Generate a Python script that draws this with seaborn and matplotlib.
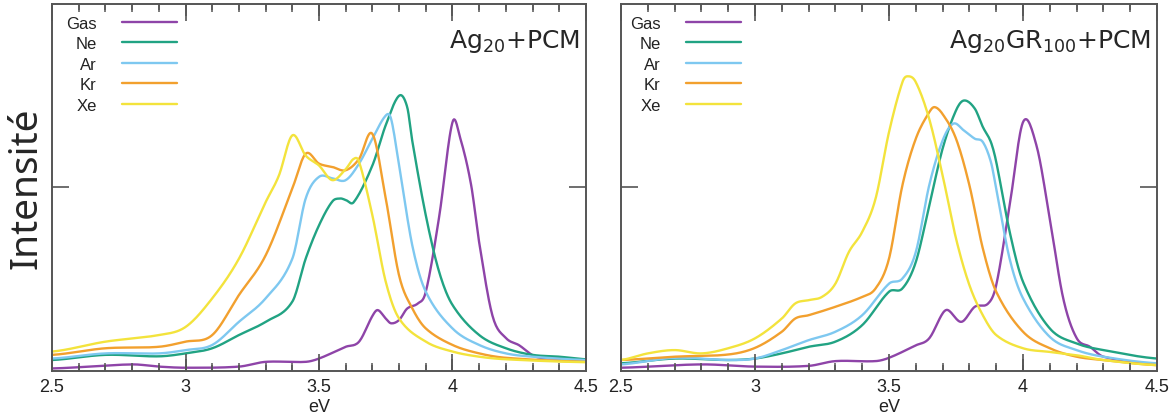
import numpy as np
import pandas as pd
import matplotlib
matplotlib.use('Agg')
import matplotlib.pyplot as plt
import seaborn as sns
from matplotlib.ticker import MultipleLocator

# Series names and colours
series = ['Gas', 'Ne', 'Ar', 'Kr', 'Xe']
colors = ['#8e44a8', '#21a383', '#7ec8f0', '#f2a02e', '#f3e33c']

# --- Left panel: Ag20+PCM (y scaled 0..1) ---
l_gas_x = [2.5, 2.8, 2.9, 3.0, 3.2, 3.3, 3.45, 3.5, 3.6, 3.65, 3.7, 3.72, 3.75, 3.77, 3.8, 3.83, 3.87, 3.9,
           3.95, 4.0, 4.03, 4.07, 4.1, 4.15, 4.2, 4.25, 4.3, 4.33, 4.4, 4.5]
l_gas_y = [0.007, 0.018, 0.012, 0.009, 0.012, 0.025, 0.025, 0.034, 0.066, 0.08, 0.15, 0.166, 0.143, 0.13,
           0.139, 0.17, 0.184, 0.216, 0.42, 0.678, 0.632, 0.506, 0.35, 0.15, 0.09, 0.07, 0.043, 0.036, 0.034, 0.027]

l_ne_x = [2.5, 2.7, 2.9, 3.0, 3.1, 3.2, 3.3, 3.4, 3.45, 3.5, 3.55, 3.58, 3.6, 3.63, 3.7, 3.75, 3.8, 3.83,
          3.85, 3.9, 3.95, 4.0, 4.1, 4.2, 4.3, 4.4, 4.5]
l_ne_y = [0.03, 0.044, 0.04, 0.048, 0.062, 0.098, 0.134, 0.189, 0.306, 0.397, 0.462, 0.47, 0.466, 0.46,
          0.56, 0.67, 0.75, 0.72, 0.624, 0.424, 0.27, 0.18, 0.098, 0.062, 0.044, 0.039, 0.032]

l_ar_x = [2.5, 2.7, 2.9, 3.0, 3.1, 3.2, 3.3, 3.4, 3.45, 3.5, 3.55, 3.6, 3.65, 3.7, 3.75, 3.77, 3.8, 3.85,
          3.9, 4.0, 4.1, 4.2, 4.3, 4.5]
l_ar_y = [0.034, 0.048, 0.048, 0.057, 0.071, 0.134, 0.198, 0.306, 0.47, 0.529, 0.525, 0.52, 0.565, 0.633,
          0.696, 0.687, 0.56, 0.34, 0.216, 0.116, 0.071, 0.048, 0.039, 0.03]

l_kr_x = [2.5, 2.7, 2.9, 3.0, 3.1, 3.2, 3.3, 3.4, 3.45, 3.5, 3.55, 3.6, 3.65, 3.7, 3.75, 3.8, 3.85, 3.9,
          4.0, 4.1, 4.2, 4.5]
l_kr_y = [0.044, 0.062, 0.066, 0.08, 0.098, 0.207, 0.315, 0.497, 0.592, 0.565, 0.556, 0.547, 0.578, 0.646,
          0.47, 0.26, 0.17, 0.116, 0.071, 0.048, 0.036, 0.025]

l_xe_x = [2.5, 2.7, 2.9, 3.0, 3.1, 3.2, 3.3, 3.35, 3.4, 3.45, 3.5, 3.55, 3.6, 3.63, 3.65, 3.7, 3.75, 3.8,
          3.9, 4.0, 4.1, 4.2, 4.5]
l_xe_y = [0.053, 0.08, 0.098, 0.12, 0.198, 0.306, 0.46, 0.533, 0.642, 0.587, 0.56, 0.52, 0.55, 0.578,
          0.57, 0.424, 0.243, 0.143, 0.08, 0.053, 0.039, 0.032, 0.024]

# --- Right panel: Ag20GR100+PCM ---
r_gas_x = [2.5, 2.8, 3.0, 3.2, 3.3, 3.45, 3.5, 3.6, 3.65, 3.7, 3.72, 3.77, 3.82, 3.87, 3.9, 3.95, 4.0,
           4.05, 4.1, 4.15, 4.2, 4.25, 4.3, 4.5]
r_gas_y = [0.009, 0.018, 0.012, 0.014, 0.027, 0.027, 0.036, 0.07, 0.089, 0.157, 0.166, 0.134, 0.175,
           0.184, 0.234, 0.45, 0.678, 0.615, 0.415, 0.198, 0.09, 0.066, 0.039, 0.018]

r_ne_x = [2.5, 2.7, 2.9, 3.0, 3.1, 3.2, 3.3, 3.4, 3.5, 3.55, 3.6, 3.65, 3.7, 3.75, 3.78, 3.82, 3.85, 3.88,
          3.9, 3.95, 4.0, 4.1, 4.2, 4.3, 4.5]
r_ne_y = [0.021, 0.034, 0.03, 0.034, 0.048, 0.066, 0.08, 0.125, 0.216, 0.225, 0.297, 0.45, 0.606, 0.71,
          0.737, 0.715, 0.665, 0.624, 0.57, 0.38, 0.243, 0.116, 0.075, 0.057, 0.034]

r_ar_x = [2.5, 2.7, 2.9, 3.0, 3.1, 3.2, 3.3, 3.4, 3.5, 3.55, 3.6, 3.65, 3.7, 3.74, 3.78, 3.82, 3.85, 3.88,
          3.9, 3.95, 4.0, 4.1, 4.2, 4.3, 4.5]
r_ar_y = [0.018, 0.036, 0.03, 0.034, 0.057, 0.084, 0.107, 0.152, 0.238, 0.252, 0.324, 0.506, 0.628, 0.674,
          0.655, 0.633, 0.624, 0.57, 0.497, 0.306, 0.198, 0.093, 0.057, 0.039, 0.021]

r_kr_x = [2.5, 2.7, 2.9, 3.0, 3.1, 3.15, 3.2, 3.3, 3.4, 3.45, 3.5, 3.55, 3.6, 3.65, 3.67, 3.7, 3.75, 3.8,
          3.85, 3.9, 4.0, 4.1, 4.2, 4.3, 4.5]
r_kr_y = [0.03, 0.039, 0.045, 0.063, 0.107, 0.143, 0.152, 0.175, 0.202, 0.225, 0.306, 0.506, 0.633, 0.705,
          0.719, 0.7, 0.633, 0.506, 0.334, 0.216, 0.107, 0.062, 0.039, 0.03, 0.016]

r_xe_x = [2.5, 2.6, 2.7, 2.8, 2.9, 3.0, 3.1, 3.15, 3.2, 3.25, 3.3, 3.35, 3.4, 3.45, 3.5, 3.55, 3.57, 3.6,
          3.65, 3.7, 3.75, 3.8, 3.85, 3.9, 4.0, 4.1, 4.2, 4.3, 4.5]
r_xe_y = [0.03, 0.048, 0.057, 0.048, 0.062, 0.089, 0.143, 0.184, 0.193, 0.202, 0.238, 0.324, 0.379, 0.47,
          0.651, 0.787, 0.803, 0.787, 0.687, 0.533, 0.361, 0.234, 0.152, 0.098, 0.062, 0.052, 0.043, 0.03, 0.016]

x_ticks = [2.5, 3, 3.5, 4, 4.5]
x_tick_labels = ['2.5', '3', '3.5', '4', '4.5']


def smooth_frame(xs_list, ys_list):
    # cubic Hermite (Catmull-Rom) through the read points, for drawing smooth curves
    rows = []
    for name, xs, ys in zip(series, xs_list, ys_list):
        xs = np.asarray(xs)
        ys = np.asarray(ys)
        fine = np.linspace(xs.min(), xs.max(), 600)
        yy = np.empty_like(fine)
        for k, xv in enumerate(fine):
            i = np.searchsorted(xs, xv) - 1
            i = min(max(i, 0), len(xs) - 2)
            x0, x1 = xs[i], xs[i + 1]
            p0 = ys[i - 1] if i > 0 else ys[i]
            p1, p2 = ys[i], ys[i + 1]
            p3 = ys[i + 2] if i + 2 < len(xs) else ys[i + 1]
            xm = xs[i - 1] if i > 0 else x0 - (x1 - x0)
            xp = xs[i + 2] if i + 2 < len(xs) else x1 + (x1 - x0)
            h = x1 - x0
            m1 = (p2 - p0) / (x1 - xm) * h
            m2 = (p3 - p1) / (xp - x0) * h
            t = (xv - x0) / h
            yy[k] = ((2 * t**3 - 3 * t**2 + 1) * p1 + (t**3 - 2 * t**2 + t) * m1
                     + (-2 * t**3 + 3 * t**2) * p2 + (t**3 - t**2) * m2)
        rows.append(pd.DataFrame({'eV': fine, 'I': yy, 'gas': name}))
    return pd.concat(rows, ignore_index=True)


left_df = smooth_frame([l_gas_x, l_ne_x, l_ar_x, l_kr_x, l_xe_x], [l_gas_y, l_ne_y, l_ar_y, l_kr_y, l_xe_y])
right_df = smooth_frame([r_gas_x, r_ne_x, r_ar_x, r_kr_x, r_xe_x], [r_gas_y, r_ne_y, r_ar_y, r_kr_y, r_xe_y])

sns.set_theme(style='ticks', rc={'xtick.direction': 'in', 'ytick.direction': 'in',
                                 'xtick.top': True, 'xtick.bottom': True,
                                 'ytick.left': True, 'ytick.right': True,
                                 'axes.axisbelow': False})
plt.rcParams['font.family'] = ['Liberation Sans', 'DejaVu Sans']

fig = plt.figure(figsize=(11.75, 4.14), dpi=100)
ax1 = fig.add_axes([0.0443, 0.1014, 0.4544, 0.8866])
ax2 = fig.add_axes([0.5285, 0.1014, 0.4562, 0.8866])

titles = [r'Ag$_{20}$+PCM', r'Ag$_{20}$GR$_{100}$+PCM']
leg_x = [0.026, 0.017]
minor_ticks = np.round(np.arange(2.6, 4.45, 0.1), 2)
tick_col = '#555555'
for ax, df, title, lx in zip([ax1, ax2], [left_df, right_df], titles, leg_x):
    sns.lineplot(data=df, x='eV', y='I', hue='gas', hue_order=series, palette=colors,
                 linewidth=1.7, ax=ax, sort=False, estimator=None)
    ax.set_xlim(2.5, 4.5)
    ax.set_ylim(0, 1)
    for s in ax.spines.values():
        s.set_color(tick_col)
        s.set_linewidth(1.4)
    ax.set_xlabel('eV', fontsize=13, labelpad=2, color='#222222')
    ax.set_ylabel('')
    leg = ax.legend(markerfirst=False, frameon=False, loc='upper left', fontsize=12,
                    bbox_to_anchor=(lx, 0.968), handlelength=3.3, handletextpad=1.5,
                    labelspacing=0.33, borderaxespad=0, borderpad=0)
    for t in leg.get_texts():
        t.set_color('#222222')
    for line in leg.get_lines():
        line.set_linewidth(1.7)
    ax.text(0.988, 0.9, title, transform=ax.transAxes, ha='right', va='center',
            fontsize=18, family=['DejaVu Sans'])

    ax.set_xticks(x_ticks)
    ax.set_xticklabels(x_tick_labels)
    ax.xaxis.set_minor_locator(MultipleLocator(0.1))
    ax.tick_params(axis='x', which='major', direction='in', length=12, width=1.2, top=True,
                   bottom=True, labelsize=13, pad=5, color=tick_col, labelcolor='#222222')
    ax.tick_params(axis='x', which='minor', direction='in', length=6, width=1.1, top=True,
                   bottom=True, color=tick_col)
    ax.set_yticks([0.5])
    ax.set_yticklabels([])
    ax.tick_params(axis='y', which='major', direction='in', length=12, width=1.2, left=True,
                   right=True, color=tick_col)

    # inward tick marks on bottom and top edges, drawn explicitly so they always show
    tr = ax.get_xaxis_transform()
    ax.vlines(x_ticks, 0, 0.033, transform=tr, colors=tick_col, linewidth=1.2, clip_on=False, zorder=4)
    ax.vlines(x_ticks, 0.967, 1, transform=tr, colors=tick_col, linewidth=1.2, clip_on=False, zorder=4)
    ax.vlines(minor_ticks, 0, 0.016, transform=tr, colors=tick_col, linewidth=1.1, clip_on=False, zorder=4)
    ax.vlines(minor_ticks, 0.984, 1, transform=tr, colors=tick_col, linewidth=1.1, clip_on=False, zorder=4)
    ax.set_xlim(2.5, 4.5)
    ax.set_ylim(0, 1)

ax1.set_ylabel('Intensité', fontsize=28, family=['Noto Sans', 'DejaVu Sans'], labelpad=1)

fig.savefig('out.png', dpi=100)
